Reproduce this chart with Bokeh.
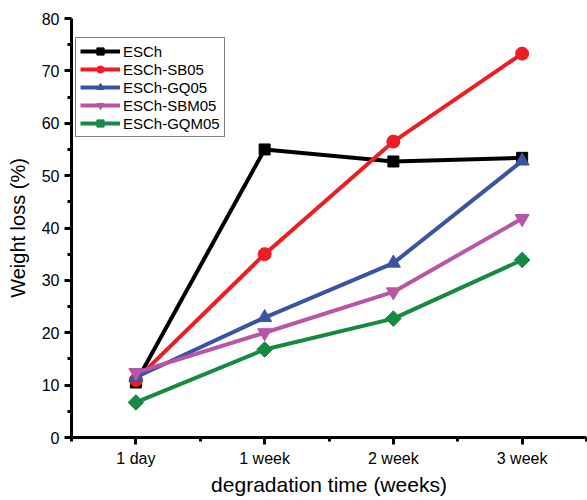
import math
from bokeh.plotting import figure
from bokeh.models import FixedTicker, Range1d
from bokeh.embed import file_html
from bokeh.resources import INLINE

categories = ["1 day", "1 week", "2 week", "3 week"]
esch = [10.5, 55.0, 52.7, 53.4]
esch_sb05 = [11.0, 35.0, 56.5, 73.3]
esch_gq05 = [11.5, 22.9, 33.3, 52.8]
esch_sbm05 = [12.4, 20.0, 27.8, 41.8]
esch_gqm05 = [6.7, 16.8, 22.7, 33.9]

series_names = ["ESCh", "ESCh-SB05", "ESCh-GQ05", "ESCh-SBM05", "ESCh-GQM05"]
series_values = [esch, esch_sb05, esch_gq05, esch_sbm05, esch_gqm05]
colors = ["#000000", "#ee1d23", "#3a53a4", "#b955a5", "#168a43"]
markers = ["square", "circle", "triangle", "inverted_triangle", "square"]
angles = [0, 0, 0, 0, math.pi / 4]
sizes = [11, 13, 14, 14, 11]

xs = [i + 1 for i in range(len(categories))]

FONT = "Liberation Sans"

p = figure(width=587, height=500, output_backend="svg", toolbar_location=None,
           x_range=Range1d(0.5, 4.5), y_range=Range1d(0, 80),
           min_border_left=71, min_border_right=1, min_border_top=18, min_border_bottom=63)
p.outline_line_color = None
p.xgrid.visible = False
p.ygrid.visible = False

for name, vals, c, m, a, s in zip(series_names, series_values, colors, markers, angles, sizes):
    p.line(xs, vals, line_color=c, line_width=4, legend_label=name)
    p.scatter(xs, vals, marker=m, angle=a, size=s, fill_color=c, line_color=c, legend_label=name)

for ax in (p.xaxis[0], p.yaxis[0]):
    ax.axis_line_width = 3
    ax.axis_line_color = "black"
    ax.major_tick_line_width = 3
    ax.minor_tick_line_width = 3
    ax.major_tick_line_color = "black"
    ax.minor_tick_line_color = "black"
    ax.major_tick_in = 0
    ax.major_tick_out = 7
    ax.minor_tick_in = 0
    ax.minor_tick_out = 4
    ax.major_label_text_font = FONT
    ax.major_label_text_font_size = "16px"
    ax.major_label_text_color = "black"
    ax.axis_label_text_font = FONT
    ax.axis_label_text_font_style = "normal"
    ax.axis_label_text_color = "black"

p.xaxis.ticker = FixedTicker(ticks=xs, minor_ticks=[0.5, 1.5, 2.5, 3.5, 4.5])
p.xaxis.major_label_overrides = {x: c for x, c in zip(xs, categories)}
p.xaxis.axis_label = "degradation time (weeks)"
p.xaxis.axis_label_text_font_size = "21px"
p.xaxis.major_label_standoff = 5
p.xaxis.axis_label_standoff = 3

p.yaxis.ticker = FixedTicker(ticks=list(range(0, 81, 10)), minor_ticks=list(range(5, 80, 10)))
p.yaxis.axis_label = "Weight loss (%)"
p.yaxis.axis_label_text_font_size = "20px"
p.yaxis.major_label_standoff = 5
p.yaxis.axis_label_standoff = 10

leg = p.legend[0]
leg.location = (4, 300)
leg.border_line_color = "black"
leg.border_line_width = 1.5
leg.background_fill_alpha = 1
leg.label_text_font = FONT
leg.label_text_font_size = "15px"
leg.label_text_color = "black"
leg.glyph_width = 40
leg.glyph_height = 18
leg.label_height = 18
leg.spacing = 0
leg.padding = 4
leg.margin = 0
leg.label_standoff = 3

open("out.html", "w").write(file_html(p, INLINE))
